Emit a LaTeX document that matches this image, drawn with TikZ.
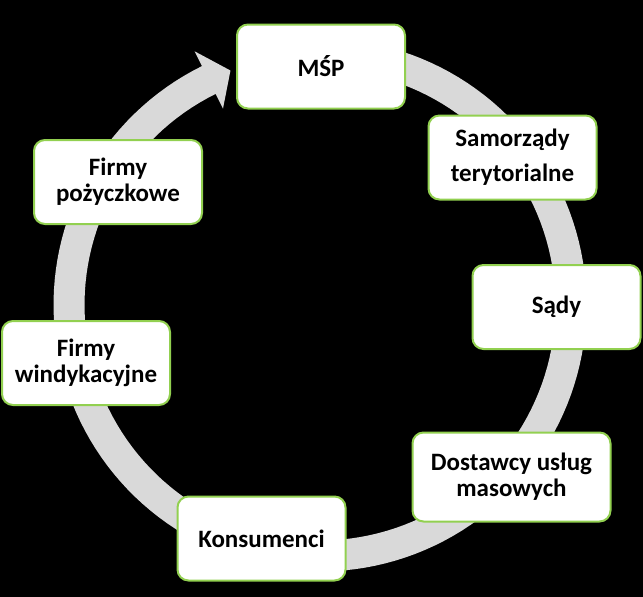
\documentclass[tikz,border=0pt]{standalone}
\usepackage{fontspec}
\setmainfont{Carlito}
\definecolor{boxgreen}{RGB}{146,208,80}
\definecolor{bandgray}{RGB}{217,217,217}
\begin{document}
\begin{tikzpicture}[x=1pt,y=-1pt,
  box/.style={draw=boxgreen, line width=2pt, fill=white, rounded corners=11pt,
    minimum width=168pt, minimum height=84pt, align=center, inner sep=0pt,
    font=\fontsize{25}{26}\selectfont\bfseries},
  band/.style={fill=bandgray}]
\fill[black] (0,0) rectangle (643,597);
\useasboundingbox (0,0) rectangle (643,597);
% circular arrow
\fill[band] plot[domain=-90:243.7, samples=150] ({320+266.5*cos(\x)},{305+266.5*sin(\x)})
  -- ({320+283*cos(243.7)},{305+283*sin(243.7)})
  -- ({320+251*cos(249.1)},{305+251*sin(249.1)})
  -- ({320+219*cos(243.7)},{305+219*sin(243.7)})
  -- plot[domain=243.7:-90, samples=150] ({320+235.5*cos(\x)},{305+235.5*sin(\x)})
  -- cycle;
% boxes
\node[box] (msp) at (321,66.5) {MŚP};
\node[box, font=\fontsize{25}{35}\selectfont\bfseries] (sam) at (512.5,157.5) {Samorządy\\terytorialne};
\node[box] (sady) at (556.5,307) {Sądy};
\node[box, minimum width=198pt, minimum height=89pt] (dost) at (511.5,477) {Dostawcy usług\\masowych};
\node[box] (kons) at (261.5,538.5) {Konsumenci};
\node[box] (wind) at (86,363) {Firmy\\windykacyjne};
\node[box] (pozy) at (118,182) {Firmy\\pożyczkowe};
\end{tikzpicture}
\end{document}
